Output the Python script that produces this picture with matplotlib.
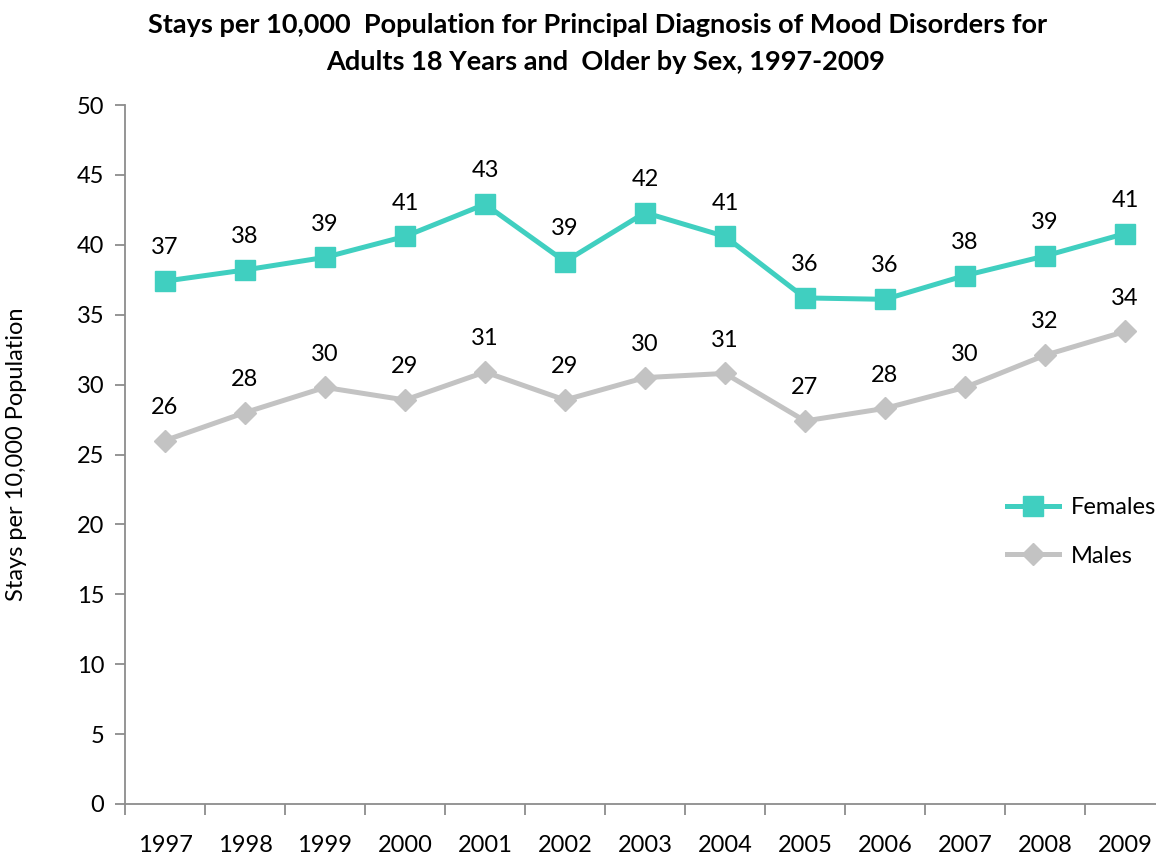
import matplotlib
matplotlib.use("Agg")
import matplotlib.pyplot as plt
from matplotlib.lines import Line2D

years = ["1997", "1998", "1999", "2000", "2001", "2002", "2003",
         "2004", "2005", "2006", "2007", "2008", "2009"]
females = [37.4, 38.2, 39.1, 40.6, 42.9, 38.8, 42.3, 40.6, 36.2, 36.1, 37.8, 39.2, 40.8]
males = [26.0, 28.0, 29.8, 28.9, 30.9, 28.9, 30.5, 30.8, 27.4, 28.3, 29.8, 32.1, 33.8]
yticks = [0, 5, 10, 15, 20, 25, 30, 35, 40, 45, 50]

teal = "#40CFC0"
gray = "#C3C3C3"
axis_gray = "#8C8C8C"
font = "Lato"
fs = 17

W, H = 1156, 857
fig = plt.figure(figsize=(W / 100, H / 100), dpi=100)
left, right, top, bottom = 125, 1165, 105, 804
ax = fig.add_axes([left / W, 1 - bottom / H, (right - left) / W, (bottom - top) / H])

x = list(range(len(years)))
ax.plot(x, females, color=teal, lw=3.6, marker="s", markersize=14, clip_on=False, zorder=3)
ax.plot(x, males, color=gray, lw=3.6, marker="D", markersize=11, clip_on=False, zorder=3)

for xi, v in zip(x, females):
    ax.annotate(f"{v:.0f}", (xi, v), xytext=(0, 24), textcoords="offset points",
                ha="center", va="center", fontsize=fs, family=font)
for xi, v in zip(x, males):
    ax.annotate(f"{v:.0f}", (xi, v), xytext=(0, 24), textcoords="offset points",
                ha="center", va="center", fontsize=fs, family=font)

ax.set_xlim(-0.5, len(years) - 0.5)
ax.set_ylim(0, 50)
ax.set_yticks(yticks)
ax.set_yticklabels([str(t) for t in yticks], family=font, fontsize=fs)
ax.set_xticks([i + 0.5 for i in range(-1, len(years))], minor=False)
ax.set_xticklabels([])
ax.set_xticks(x, minor=True)
ax.set_xticklabels(years, minor=True, family=font, fontsize=fs)
ax.tick_params(axis="x", which="major", direction="out", length=8, width=1.3, color=axis_gray)
ax.tick_params(axis="x", which="minor", length=0, pad=22)
ax.tick_params(axis="y", direction="out", length=7, width=1.3, color=axis_gray, pad=8)

for s in ["top", "right"]:
    ax.spines[s].set_visible(False)
for s in ["left", "bottom"]:
    ax.spines[s].set_color(axis_gray)
    ax.spines[s].set_linewidth(1.3)

ax.set_ylabel("Stays per 10,000 Population", family=font, fontsize=fs, labelpad=36)

fig.text(598 / W, 1 - 25 / H, "Stays per 10,000  Population for Principal Diagnosis of Mood Disorders for",
         ha="center", va="center", fontsize=19.5, fontweight="bold", family=font)
fig.text(606 / W, 1 - 62 / H, "Adults 18 Years and  Older by Sex, 1997-2009",
         ha="center", va="center", fontsize=19.5, fontweight="bold", family=font)

handles = [Line2D([], [], color=teal, lw=3.6, marker="s", markersize=14),
           Line2D([], [], color=gray, lw=3.6, marker="D", markersize=11)]
fig.legend(handles, ["Females", "Males"], loc="upper left",
           bbox_to_anchor=(998 / W, 1 - 488 / H), frameon=False,
           prop={"family": font, "size": fs}, handlelength=2.2, handletextpad=0.5,
           labelspacing=1.15, borderaxespad=0)

fig.savefig("out.png", dpi=100)
